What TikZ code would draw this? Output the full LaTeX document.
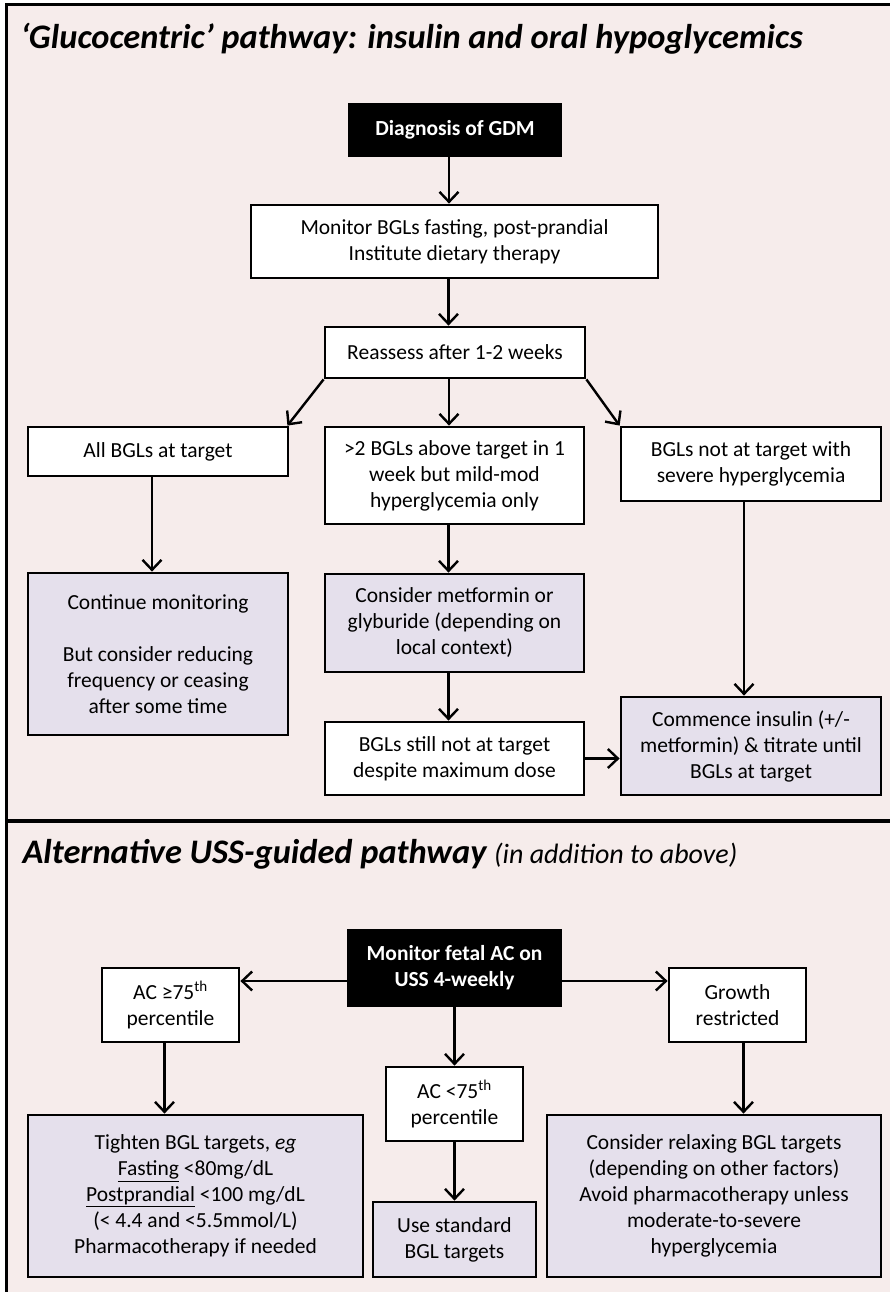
\documentclass[tikz,border=0pt]{standalone}
\usepackage{fontspec}
\setmainfont{Carlito}
\usetikzlibrary{arrows.meta}
\definecolor{bgpink}{RGB}{246,236,235}
\definecolor{lilac}{RGB}{229,224,236}

\begin{document}
\begin{tikzpicture}[x=1pt, y=-1pt,
    font=\fontsize{21.5}{26}\selectfont,
    boxline/.style={draw=black, line width=2.8pt, align=center, inner sep=0pt},
    whitebox/.style={boxline, fill=white},
    lilacbox/.style={boxline, fill=lilac},
    darkbox/.style={boxline, fill=black, text=white, font=\fontsize{21.5}{26}\selectfont\bfseries},
    headline/.style={anchor=base west, font=\fontsize{34.4}{40}\selectfont\bfseries\itshape},
    arr/.style={line width=2.4pt, -{Straight Barb[length=10pt, width=19pt]}}]

    % ==========================================
    % PAGE AND FRAME
    % ==========================================
    \useasboundingbox (0,0) rectangle (890,1292);
    \fill[white] (0,0) rectangle (890,1292);
    \fill[bgpink] (6,4) rectangle (890,1292);
    \draw[line width=3.5pt] (6.5,1292) -- (6.5,4.5) -- (890,4.5);
    \draw[line width=3.5pt] (6.5,821) -- (890,821); % divider between the two pathways

    % ==========================================
    % GLUCOCENTRIC PATHWAY (TOP)
    % ==========================================
    \node[headline] (title1) at (17,49) {‘Glucocentric’ pathway: insulin and oral hypoglycemics};

    % Main column
    \node[darkbox, minimum width=212pt, minimum height=52pt] (diag) at (455,130) {Diagnosis of GDM};
    \node[whitebox, minimum width=407pt, minimum height=73pt] (mon) at (454.5,241.5) {Monitor BGLs fasting, post-prandial\\Institute dietary therapy};
    \node[whitebox, minimum width=260pt, minimum height=51pt] (reas) at (455,352.5) {Reassess after 1-2 weeks};

    % Three outcomes after reassessment
    \node[whitebox, minimum width=260pt, minimum height=49pt] (allt) at (158,451.5) {All BGLs at target};
    \node[whitebox, minimum width=259pt, minimum height=97pt] (mild) at (454.5,475.5) {>2 BGLs above target in 1\\week but mild-mod\\hyperglycemia only};
    \node[whitebox, minimum width=260pt, minimum height=74pt] (sev) at (751,464) {BGLs not at target with\\severe hyperglycemia};

    % Actions
    \node[lilacbox, minimum width=260pt, minimum height=162pt] (cont) at (158,654) {Continue monitoring\\[26pt]But consider reducing\\frequency or ceasing\\after some time};
    \node[lilacbox, minimum width=259pt, minimum height=98pt] (metf) at (454.5,623) {Consider metformin or\\glyburide (depending on\\local context)};
    \node[whitebox, minimum width=259pt, minimum height=73pt] (still) at (454.5,758.5) {BGLs still not at target\\despite maximum dose};
    \node[lilacbox, minimum width=260pt, minimum height=98pt] (ins) at (751,746) {Commence insulin (+/-\\metformin) \& titrate until\\BGLs at target};

    % Connectors (the centre arrows sit a little left of the box centres)
    \draw[arr] ([xshift=-6pt]diag.south) -- ([xshift=-6pt]diag.south |- mon.north);
    \draw[arr] ([xshift=-6pt]mon.south) -- ([xshift=-6pt]mon.south |- reas.north);
    \draw[arr] (reas.south west) -- ([xshift=-2pt]allt.north east);
    \draw[arr] ([xshift=-6pt]reas.south) -- ([xshift=-6pt]reas.south |- mild.north);
    \draw[arr] (reas.south east) -- (sev.north west);
    \draw[arr] ([xshift=-6pt]allt.south) -- ([xshift=-6pt]allt.south |- cont.north);
    \draw[arr] ([xshift=-6pt]mild.south) -- ([xshift=-6pt]mild.south |- metf.north);
    \draw[arr] ([xshift=-6pt]metf.south) -- ([xshift=-6pt]metf.south |- still.north);
    \draw[arr] ([xshift=-7pt]sev.south) -- ([xshift=-7pt]sev.south |- ins.north);
    \draw[arr] (still.east) -- (still.east -| ins.west);

    % ==========================================
    % USS-GUIDED PATHWAY (BOTTOM)
    % ==========================================
    \node[headline] (title2) at (19,863) {Alternative USS-guided pathway {\fontsize{28}{32}\selectfont\mdseries (in addition to above)}};

    \node[darkbox, minimum width=213pt, minimum height=76pt] (mfa) at (454.5,968) {Monitor fetal AC on\\USS 4-weekly};
    \node[whitebox, minimum width=137pt, minimum height=74pt] (acge) at (170.5,1005) {AC ≥75\textsuperscript{th}\\percentile};
    \node[whitebox, minimum width=137pt, minimum height=74pt] (grow) at (737.5,1005) {Growth\\restricted};
    \node[whitebox, minimum width=137pt, minimum height=74pt] (aclt) at (454.5,1104) {AC <75\textsuperscript{th}\\percentile};

    \node[lilacbox, minimum width=335pt, minimum height=162pt] (tight) at (195.5,1196) {Tighten BGL targets, \emph{eg}\\\underline{Fasting} <80mg/dL\\\underline{Postprandial} <100 mg/dL\\(< 4.4 and <5.5mmol/L)\\Pharmacotherapy if needed};
    \node[lilacbox, minimum width=163pt, minimum height=75pt] (std) at (454.5,1239.5) {Use standard\\BGL targets};
    \node[lilacbox, minimum width=334pt, minimum height=162pt] (relax) at (714,1196) {Consider relaxing BGL targets\\(depending on other factors)\\Avoid pharmacotherapy unless\\moderate-to-severe\\hyperglycemia};

    % Connectors
    \draw[arr] ([yshift=-13pt]mfa.west) -- ([yshift=-13pt]mfa.west -| acge.east);
    \draw[arr] ([yshift=-13pt]mfa.east) -- ([yshift=-13pt]mfa.east -| grow.west);
    \draw[arr] (mfa.south) -- (aclt.north);
    \draw[arr] ([xshift=-6pt]acge.south) -- ([xshift=-6pt]acge.south |- tight.north);
    \draw[arr] ([xshift=6pt]grow.south) -- ([xshift=6pt]grow.south |- relax.north);
    \draw[arr] (aclt.south) -- (std.north);
\end{tikzpicture}
\end{document}
